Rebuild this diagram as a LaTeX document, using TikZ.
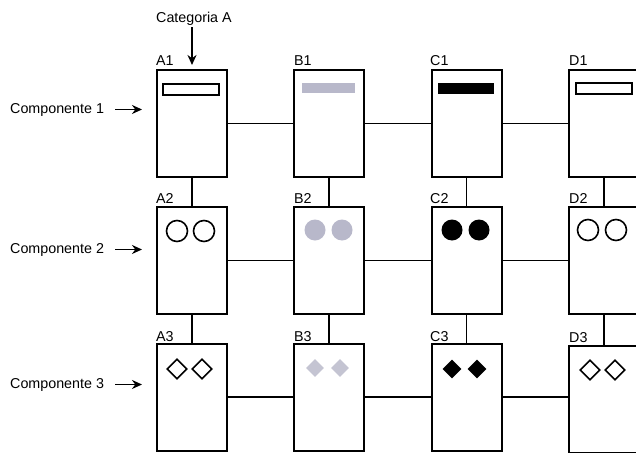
\documentclass[tikz,border=0pt]{standalone}
\usepackage{fontspec}
\setmainfont{Liberation Sans}
\usetikzlibrary{shapes.geometric,arrows.meta}
\definecolor{softgrey}{RGB}{184,184,202}
\definecolor{palegrey}{RGB}{196,196,210}
\begin{document}
\begin{tikzpicture}[x=1pt,y=-1pt,
  box/.style={draw, line width=2pt, minimum width=70pt, minimum height=107pt, inner sep=0pt, fill=white},
  link/.style={line width=1.8pt},
  lab/.style={font=\fontsize{14.3}{16}\selectfont, inner sep=0pt, anchor=base west},
  ptr/.style={line width=1.8pt, -{Stealth[length=10pt,width=9pt]}},
  bar/.style={rectangle, minimum width=56pt, minimum height=11pt, inner sep=0pt},
  dot/.style={circle, minimum size=21pt, inner sep=0pt},
  gem/.style={diamond, minimum size=20pt, inner sep=0pt, aspect=1}]
\useasboundingbox (0,0) rectangle (636,452);
\fill[white] (0,0) rectangle (636,452);
\clip (0,0) rectangle (636,452);

% boxes
\node[box] (A1) at (192,123.5) {};
\node[box] (B1) at (329,123.5) {};
\node[box] (C1) at (466.5,123.5) {};
\node[box] (D1) at (604,123.5) {};
\node[box] (A2) at (192,260.5) {};
\node[box] (B2) at (329,260.5) {};
\node[box] (C2) at (466.5,260.5) {};
\node[box] (D2) at (604,260.5) {};
\node[box] (A3) at (192,397) {};
\node[box] (B3) at (329,397) {};
\node[box] (C3) at (466.5,397) {};
\node[box] (D3) at (604,399.5) {};

% horizontal links
\draw[link] (A1) -- (B1);
\draw[link] (B1) -- (C1);
\draw[link] (C1) -- (D1);
\draw[link] (A2) -- (B2);
\draw[link] (B2) -- (C2);
\draw[link] (C2) -- (D2);
\draw[link] (A3) -- (B3);
\draw[link] (B3) -- (C3);
\draw[link] (C3.east) -- (C3.east -| D3.west);

% vertical links
\draw[link] (A1) -- (A2);
\draw[link] (B1) -- (B2);
\draw[link] (C1) -- (C2);
\draw[link] (D1) -- (D2);
\draw[link] (A2) -- (A3);
\draw[link] (B2) -- (B3);
\draw[link] (C2) -- (C3);
\draw[link] (D2) -- (D3);

% box labels
\node[lab] (lA1) at (156,65) {A1};
\node[lab] (lB1) at (294,65) {B1};
\node[lab] (lC1) at (430,65) {C1};
\node[lab] (lD1) at (569,65) {D1};
\node[lab] (lA2) at (156,203) {A2};
\node[lab] (lB2) at (294,203) {B2};
\node[lab] (lC2) at (430,203) {C2};
\node[lab] (lD2) at (569,203) {D2};
\node[lab] (lA3) at (156,341) {A3};
\node[lab] (lB3) at (294,341) {B3};
\node[lab] (lC3) at (430,341) {C3};
\node[lab] (lD3) at (569,342) {D3};

% side labels and pointers
\node[lab] (catA) at (156,23) {Categoria A};
\draw[ptr] ([yshift=-1pt]catA.south -| A1.north) -- ([yshift=4pt]A1.north);
\node[lab] (comp1) at (10,113) {Componente 1};
\node[lab] (comp2) at (10,253) {Componente 2};
\node[lab] (comp3) at (10,388) {Componente 3};
\draw[ptr] ([xshift=11pt]comp1.east) -- ([xshift=-14pt]comp1.east -| A1.west);
\draw[ptr] ([xshift=11pt]comp2.east) -- ([xshift=-14pt]comp2.east -| A2.west);
\draw[ptr] ([xshift=11pt]comp3.east) -- ([xshift=-14pt]comp3.east -| A3.west);

% row 1 bars
\node[bar, draw, line width=1.6pt, fill=white] (barA) at (191,89.5) {};
\node[bar, fill=softgrey, minimum width=53pt, minimum height=10pt] (barB) at (328.5,88) {};
\node[bar, fill=black] (barC) at (465.5,88.5) {};
\node[bar, draw, line width=1.6pt, fill=white] (barD) at (604,88.5) {};

% row 2 circles
\node[dot, draw, line width=1.6pt] (cA1) at (177,231) {};
\node[dot, draw, line width=1.6pt] (cA2) at (204,231) {};
\node[dot, fill=softgrey] (cB1) at (315,230) {};
\node[dot, fill=softgrey] (cB2) at (342,230) {};
\node[dot, fill=black] (cC1) at (452,230) {};
\node[dot, fill=black] (cC2) at (479,230) {};
\node[dot, draw, line width=1.6pt] (cD1) at (588,230) {};
\node[dot, draw, line width=1.6pt] (cD2) at (616,230) {};

% row 3 diamonds
\node[gem, draw, line width=1.6pt] (gA1) at (177,369) {};
\node[gem, draw, line width=1.6pt] (gA2) at (202,369) {};
\node[gem, fill=palegrey, minimum size=18pt] (gB1) at (315,368) {};
\node[gem, fill=palegrey, minimum size=18pt] (gB2) at (340,368) {};
\node[gem, fill=black, minimum size=19pt] (gC1) at (452,369) {};
\node[gem, fill=black, minimum size=19pt] (gC2) at (477,369) {};
\node[gem, draw, line width=1.6pt] (gD1) at (590,370) {};
\node[gem, draw, line width=1.6pt] (gD2) at (615,370) {};
\end{tikzpicture}
\end{document}
